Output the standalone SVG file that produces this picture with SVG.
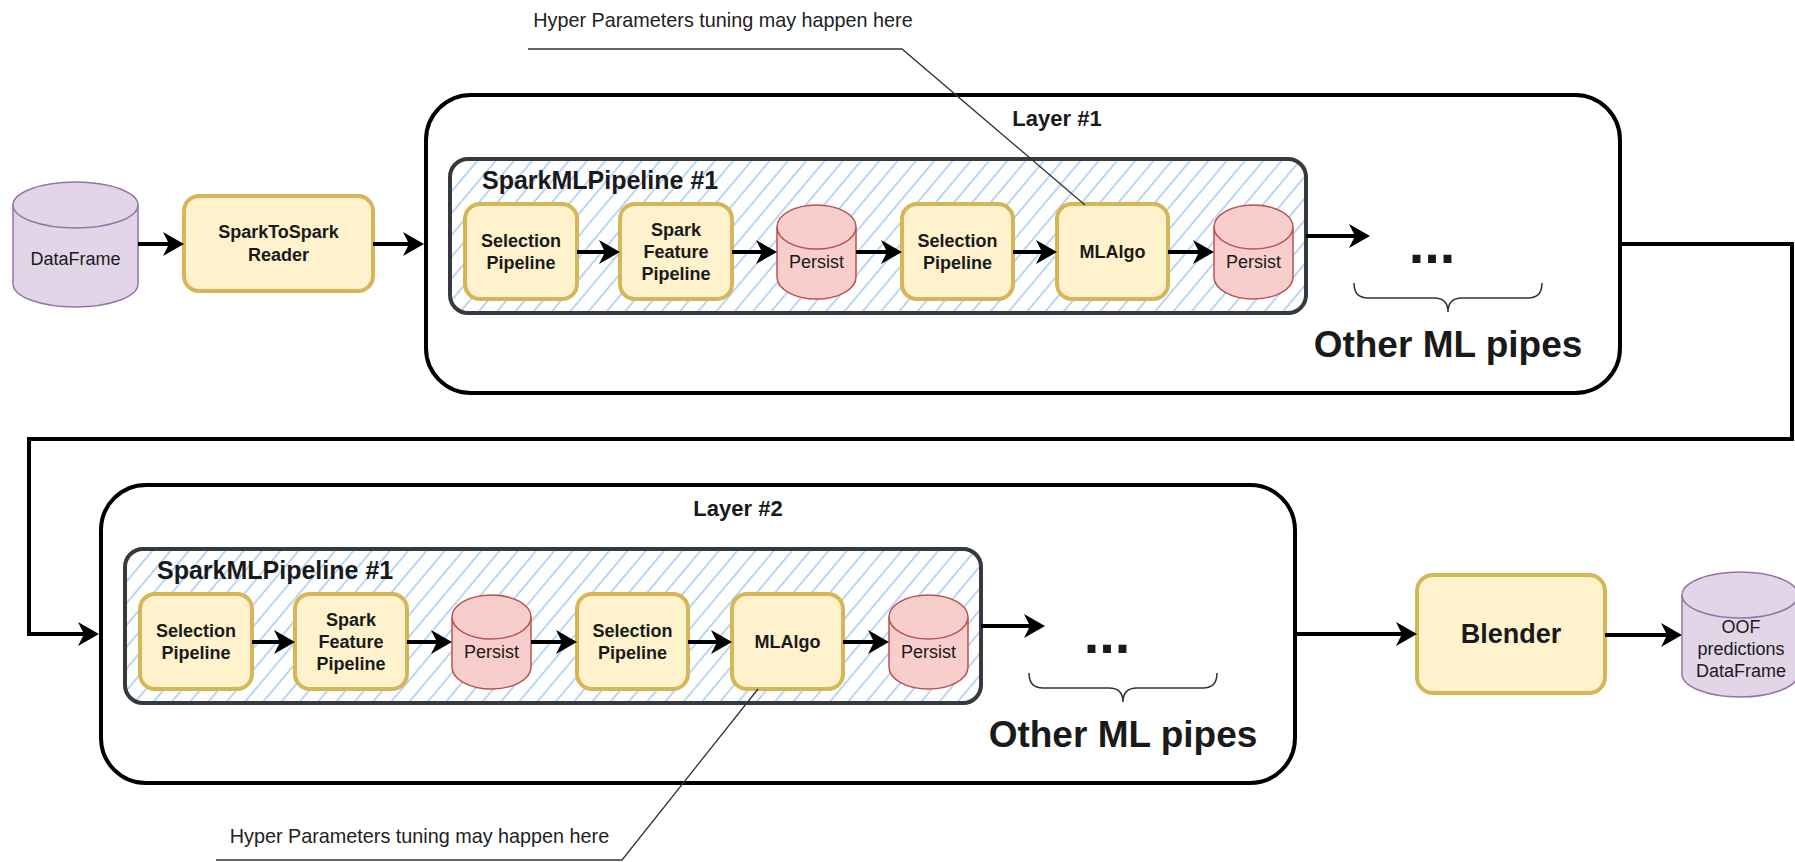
<svg xmlns="http://www.w3.org/2000/svg" width="1795" height="862" viewBox="0 0 1795 862">
  <defs>
    <style>
      text { font-family: "Liberation Sans", Arial, sans-serif; fill: #1a1a1a; }
      .b { font-weight: bold; }
      .c { text-anchor: middle; }
      .t18 { font-size: 18px; }
      .note-text { font-size: 19.8px; fill: #222; text-anchor: middle; }
      .step { fill: #fff2cc; stroke: #d6b656; stroke-width: 4; }
      .persist { fill: #f8cecc; stroke: #b85450; stroke-width: 1.5; }
      .data { fill: #e1d5e7; stroke: #9673a6; stroke-width: 1.5; }
      .layer { fill: #fff; stroke: #000; stroke-width: 4; }
      .pipe { fill: url(#hatch); stroke: #36393d; stroke-width: 4; }
      .flow { fill: none; stroke: #000; stroke-width: 4; marker-end: url(#head); }
      .note { fill: none; stroke: #333; stroke-width: 1.3; }
      .brace { fill: none; stroke: #333; stroke-width: 1.5; }
      .title { font-size: 22px; font-weight: bold; text-anchor: middle; }
      .pipe-title { font-size: 25px; font-weight: bold; }
      .dots { font-size: 56px; font-weight: bold; text-anchor: middle; }
      .others { font-size: 37px; font-weight: bold; text-anchor: middle; }
    </style>
    <marker id="head" viewBox="0 0 21 24" refX="6" refY="12" markerWidth="21" markerHeight="24" markerUnits="userSpaceOnUse" orient="auto">
      <path d="M0,0 L21,12 L0,24 L6,12 Z" fill="#000"/>
    </marker>
    <pattern id="hatch" patternUnits="userSpaceOnUse" width="14" height="14" patternTransform="rotate(40)">
      <rect width="14" height="14" fill="#fff"/>
      <line x1="7" y1="0" x2="7" y2="14" stroke="#a6cdf5" stroke-width="1.6"/>
    </pattern>
  </defs>

  <rect width="1795" height="862" fill="#fff"/>

  <!-- input dataset -->
  <g id="dataframe">
    <path class="data" d="M13,205 A62.5,23 0 0 1 138,205 V284 A62.5,23 0 0 1 13,284 Z"/>
    <path class="data" fill="none" d="M13,205 A62.5,23 0 0 0 138,205"/>
    <text class="t18 c" x="75.5" y="265">DataFrame</text>
  </g>

  <g id="reader">
    <rect class="step" x="184" y="196" width="189" height="95" rx="15"/>
    <text class="t18 b c" x="278.5" y="238">SparkToSpark</text>
    <text class="t18 b c" x="278.5" y="261">Reader</text>
  </g>

  <!-- Layer 1 -->
  <g id="layer1">
    <rect class="layer" x="426" y="95" width="1194" height="298" rx="45"/>
    <text class="title" x="1057" y="126">Layer #1</text>
  </g>
  <g id="l1-pipeline">
    <rect class="pipe" x="450" y="159" width="856" height="154" rx="18"/>
    <text class="pipe-title" x="482" y="189">SparkMLPipeline #1</text>
  </g>
  <g id="l1-sel1">
    <rect class="step" x="465" y="204" width="112" height="95" rx="15"/>
    <text class="t18 b c" x="521" y="246.5">Selection</text>
    <text class="t18 b c" x="521" y="268.5">Pipeline</text>
  </g>
  <g id="l1-feat">
    <rect class="step" x="620" y="204" width="112" height="95" rx="15"/>
    <text class="t18 b c" x="676" y="235.5">Spark</text>
    <text class="t18 b c" x="676" y="257.5">Feature</text>
    <text class="t18 b c" x="676" y="279.5">Pipeline</text>
  </g>
  <g id="l1-persist1">
    <path class="persist" d="M777,227 A39.5,22 0 0 1 856,227 V277 A39.5,22 0 0 1 777,277 Z"/>
    <path class="persist" fill="none" d="M777,227 A39.5,22 0 0 0 856,227"/>
    <text class="t18 c" x="816.5" y="268">Persist</text>
  </g>
  <g id="l1-sel2">
    <rect class="step" x="902" y="204" width="111" height="95" rx="15"/>
    <text class="t18 b c" x="957.5" y="246.5">Selection</text>
    <text class="t18 b c" x="957.5" y="268.5">Pipeline</text>
  </g>
  <g id="l1-algo">
    <rect class="step" x="1057" y="204" width="111" height="95" rx="15"/>
    <text class="t18 b c" x="1112.5" y="257.5">MLAlgo</text>
  </g>
  <g id="l1-persist2">
    <path class="persist" d="M1214,227 A39.5,22 0 0 1 1293,227 V277 A39.5,22 0 0 1 1214,277 Z"/>
    <path class="persist" fill="none" d="M1214,227 A39.5,22 0 0 0 1293,227"/>
    <text class="t18 c" x="1253.5" y="268">Persist</text>
  </g>
  <g id="l1-others">
    <text class="dots" x="1432" y="263">...</text>
    <path class="brace" d="M1354,283 Q1354,298 1368,298 H1434 Q1448,298 1448,312 Q1448,298 1462,298 H1528 Q1542,298 1542,283"/>
    <text class="others" x="1448" y="357">Other ML pipes</text>
  </g>

  <!-- Layer 2: same layout as layer 1, shifted -->
  <g transform="translate(-325,390)">
    <g id="layer2">
      <rect class="layer" x="426" y="95" width="1194" height="298" rx="45"/>
      <text class="title" x="1063" y="126">Layer #2</text>
    </g>
    <g id="l2-pipeline">
      <rect class="pipe" x="450" y="159" width="856" height="154" rx="18"/>
      <text class="pipe-title" x="482" y="189">SparkMLPipeline #1</text>
    </g>
    <g id="l2-sel1">
      <rect class="step" x="465" y="204" width="112" height="95" rx="15"/>
      <text class="t18 b c" x="521" y="246.5">Selection</text>
      <text class="t18 b c" x="521" y="268.5">Pipeline</text>
    </g>
    <g id="l2-feat">
      <rect class="step" x="620" y="204" width="112" height="95" rx="15"/>
      <text class="t18 b c" x="676" y="235.5">Spark</text>
      <text class="t18 b c" x="676" y="257.5">Feature</text>
      <text class="t18 b c" x="676" y="279.5">Pipeline</text>
    </g>
    <g id="l2-persist1">
      <path class="persist" d="M777,227 A39.5,22 0 0 1 856,227 V277 A39.5,22 0 0 1 777,277 Z"/>
      <path class="persist" fill="none" d="M777,227 A39.5,22 0 0 0 856,227"/>
      <text class="t18 c" x="816.5" y="268">Persist</text>
    </g>
    <g id="l2-sel2">
      <rect class="step" x="902" y="204" width="111" height="95" rx="15"/>
      <text class="t18 b c" x="957.5" y="246.5">Selection</text>
      <text class="t18 b c" x="957.5" y="268.5">Pipeline</text>
    </g>
    <g id="l2-algo">
      <rect class="step" x="1057" y="204" width="111" height="95" rx="15"/>
      <text class="t18 b c" x="1112.5" y="257.5">MLAlgo</text>
    </g>
    <g id="l2-persist2">
      <path class="persist" d="M1214,227 A39.5,22 0 0 1 1293,227 V277 A39.5,22 0 0 1 1214,277 Z"/>
      <path class="persist" fill="none" d="M1214,227 A39.5,22 0 0 0 1293,227"/>
      <text class="t18 c" x="1253.5" y="268">Persist</text>
    </g>
    <g id="l2-others">
      <text class="dots" x="1432" y="263">...</text>
      <path class="brace" d="M1354,283 Q1354,298 1368,298 H1434 Q1448,298 1448,312 Q1448,298 1462,298 H1528 Q1542,298 1542,283"/>
      <text class="others" x="1448" y="357">Other ML pipes</text>
    </g>
  </g>

  <g id="blender">
    <rect class="step" x="1417" y="575" width="188" height="118" rx="16"/>
    <text class="b c" style="font-size:27px" x="1511" y="643">Blender</text>
  </g>

  <g id="oof">
    <path class="data" d="M1682,595 A58,23 0 0 1 1798,595 V674 A58,23 0 0 1 1682,674 Z"/>
    <path class="data" fill="none" d="M1682,595 A58,23 0 0 0 1798,595"/>
    <text class="t18 c" x="1741" y="633">OOF</text>
    <text class="t18 c" x="1741" y="655">predictions</text>
    <text class="t18 c" x="1741" y="677">DataFrame</text>
  </g>

  <!-- callouts -->
  <g id="note-top">
    <text class="note-text" x="723" y="27">Hyper Parameters tuning may happen here</text>
    <path class="note" d="M528,49 H902 L1085,205"/>
  </g>
  <g id="note-bottom">
    <text class="note-text" x="419.5" y="843">Hyper Parameters tuning may happen here</text>
    <path class="note" d="M216,860 H622 L758,689"/>
  </g>

  <!-- connectors -->
  <g id="connectors">
    <path class="flow" d="M138,244 H169"/>
    <path class="flow" d="M373,244 H409"/>
    <path class="flow" d="M577,252 H605"/>
    <path class="flow" d="M732,252 H762"/>
    <path class="flow" d="M856,252 H887"/>
    <path class="flow" d="M1013,252 H1042"/>
    <path class="flow" d="M1168,252 H1199"/>
    <path class="flow" d="M1306,236 H1355"/>
    <path class="flow" d="M1620,244 H1792 V439 H29 V634 H84"/>
    <path class="flow" d="M252,642 H280"/>
    <path class="flow" d="M407,642 H437"/>
    <path class="flow" d="M531,642 H562"/>
    <path class="flow" d="M688,642 H717"/>
    <path class="flow" d="M843,642 H874"/>
    <path class="flow" d="M981,626 H1030"/>
    <path class="flow" d="M1295,634 H1402"/>
    <path class="flow" d="M1605,635 H1667"/>
  </g>
</svg>
